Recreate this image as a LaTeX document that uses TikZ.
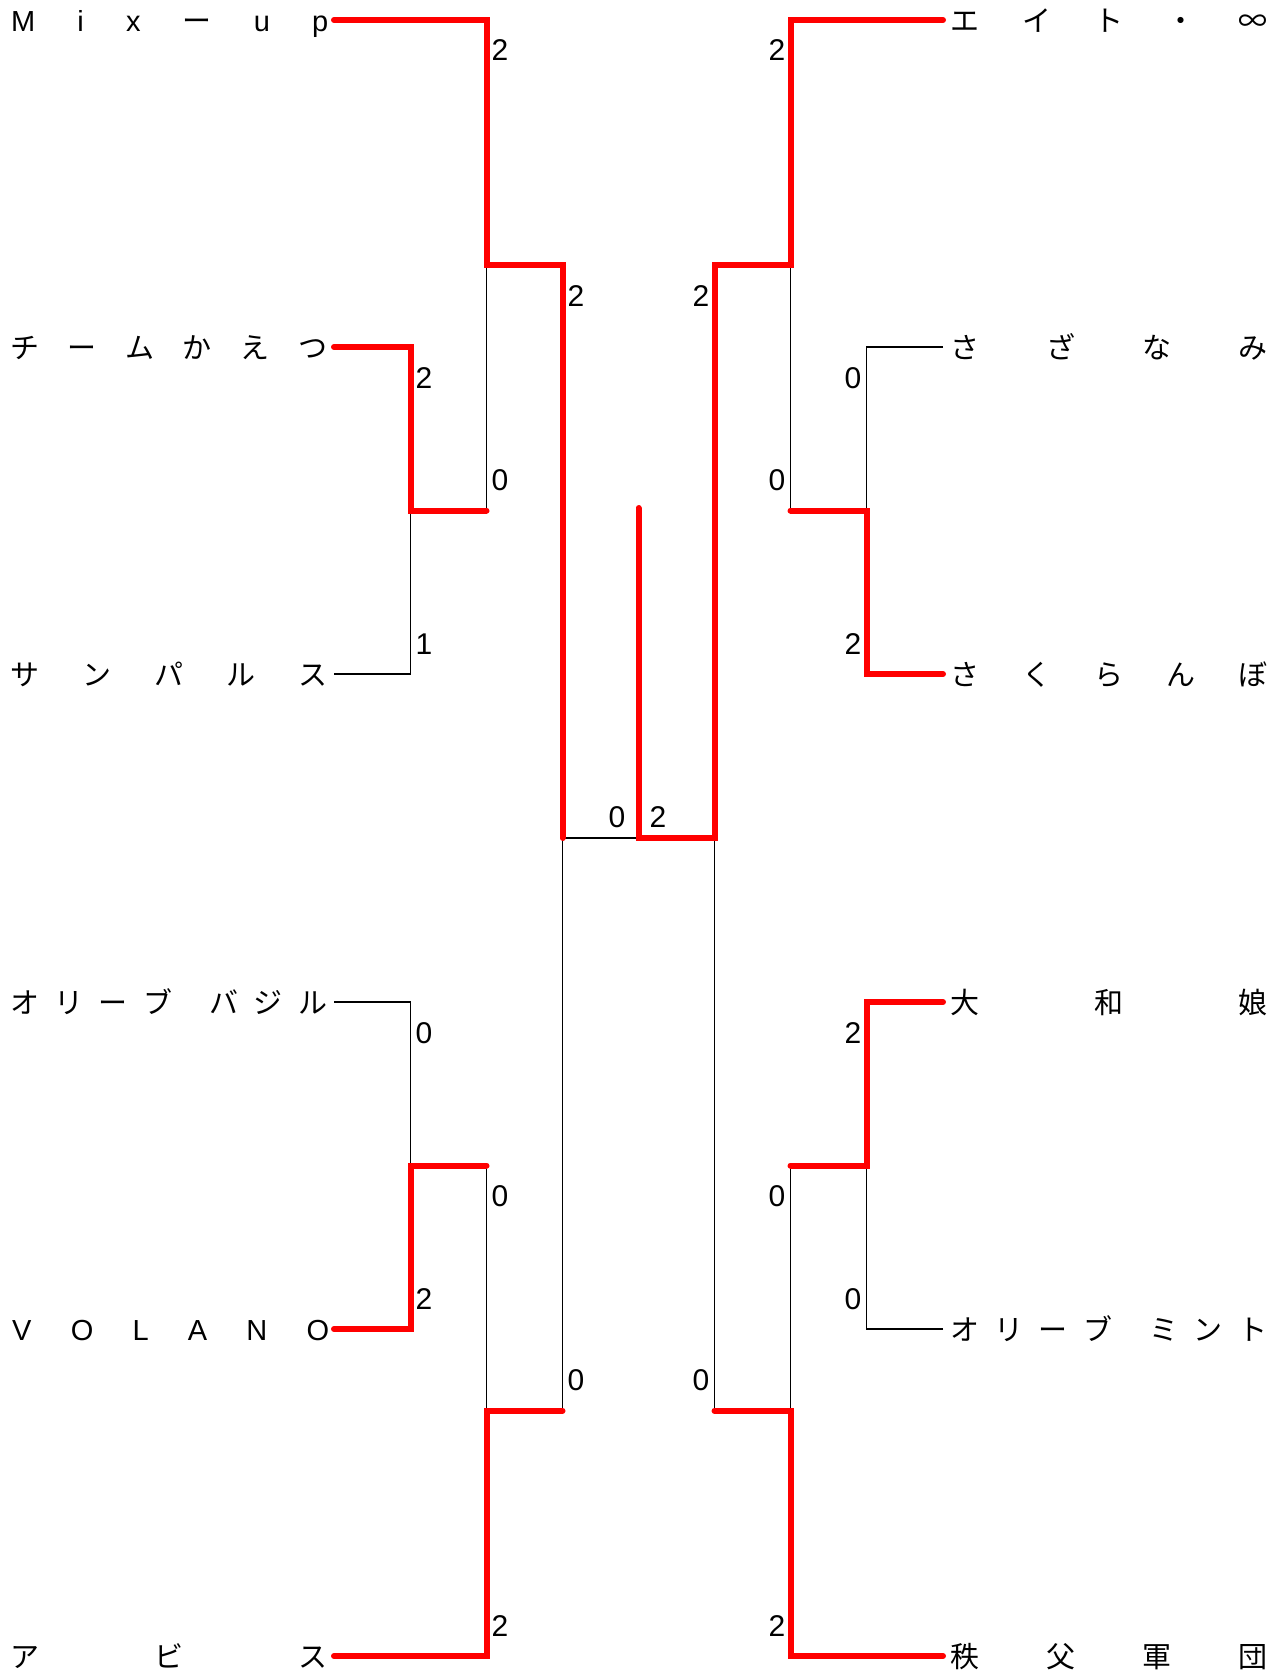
\documentclass[tikz,border=0pt]{standalone}
\usepackage{fontspec}
\setmainfont{Liberation Sans}
\newfontfamily\jpfont{Noto Sans CJK JP}
\tikzset{
  win/.style={draw=red, line width=6pt, line cap=round, line join=miter},
  lose/.style={draw=black, line width=1.1pt},
  team/.style={anchor=base west, inner sep=0pt, font=\fontsize{29}{29}\selectfont},
  scoreL/.style={anchor=base west, inner sep=0pt, font=\fontsize{30}{30}\selectfont},
  scoreR/.style={anchor=base east, inner sep=0pt, font=\fontsize{30}{30}\selectfont},
}
\newcommand\spreadbox[1]{\hbox to 317pt{#1}}
\newcommand\jpbox[1]{\hbox to 317pt{\jpfont #1}}
\begin{document}
\begin{tikzpicture}[x=1pt,y=-1pt]
\useasboundingbox (0,0) rectangle (1277,1670);
% ---- grid coordinates ----
\def\LA{334}\def\LB{410.5}\def\LC{486.5}\def\LD{562.5}\def\CC{638.5}
\def\RD{714.5}\def\RC{790.5}\def\RB{866.5}\def\RA{943}
\def\yA{20}\def\yB{347}\def\yC{674}\def\yD{1002}\def\yE{1329}\def\yF{1656}
\def\mAB{265.25}\def\mBC{510.5}\def\mDE{1165.5}\def\mEF{1410.75}\def\mF{838}

% ---- team names ----
\node[team] (nA) at (11,\yA+11.5) {\spreadbox{M\hfill i\hfill x\hfill {\jpfont ー}\hfill u\hfill p}};
\node[team] (nB) at (10,\yB+11.5) {\jpbox{チ\hfill ー\hfill ム\hfill か\hfill え\hfill つ}};
\node[team] (nC) at (10,\yC+11.5) {\jpbox{サ\hfill ン\hfill パ\hfill ル\hfill ス}};
\node[team] (nD) at (10,\yD+11.5) {\jpbox{オ\hfill リ\hfill ー\hfill ブ\hfill\hspace{7pt}\hfill バ\hfill ジ\hfill ル}};
\node[team] (nE) at (12,\yE+11.5) {\spreadbox{V\hfill O\hfill L\hfill A\hfill N\hfill O}};
\node[team] (nF) at (10,\yF+11.5) {\jpbox{ア\hfill ビ\hfill ス}};
\node[team] (mA) at (950,\yA+11.5) {\jpbox{エ\hfill イ\hfill ト\hfill ・\hfill ∞}};
\node[team] (mB) at (950,\yB+11.5) {\jpbox{さ\hfill ざ\hfill な\hfill み}};
\node[team] (mC) at (950,\yC+11.5) {\jpbox{さ\hfill く\hfill ら\hfill ん\hfill ぼ}};
\node[team] (mD) at (950,\yD+11.5) {\jpbox{大\hfill 和\hfill 娘}};
\node[team] (mE) at (950,\yE+11.5) {\jpbox{オ\hfill リ\hfill ー\hfill ブ\hfill\hspace{7pt}\hfill ミ\hfill ン\hfill ト}};
\node[team] (mF) at (950,\yF+11.5) {\jpbox{秩\hfill 父\hfill 軍\hfill 団}};

% ---- named coordinates: line ends ----
\coordinate (a1) at (\LA,\yA); \coordinate (a2) at (\LA,\yB); \coordinate (a3) at (\LA,\yC);
\coordinate (a4) at (\LA,\yD); \coordinate (a5) at (\LA,\yE); \coordinate (a6) at (\LA,\yF);
\coordinate (b1) at (\RA,\yA); \coordinate (b2) at (\RA,\yB); \coordinate (b3) at (\RA,\yC);
\coordinate (b4) at (\RA,\yD); \coordinate (b5) at (\RA,\yE); \coordinate (b6) at (\RA,\yF);
% left joins
\coordinate (lB1) at (\LB,\yB); \coordinate (lB2) at (\LB,\yC); \coordinate (lBm) at (\LB,\mBC);
\coordinate (lB4) at (\LB,\yD); \coordinate (lB5) at (\LB,\yE); \coordinate (lBn) at (\LB,\mDE);
\coordinate (lC0) at (\LC,\yA); \coordinate (lCa) at (\LC,\mAB); \coordinate (lCm) at (\LC,\mBC);
\coordinate (lCn) at (\LC,\mDE); \coordinate (lCf) at (\LC,\mEF); \coordinate (lC6) at (\LC,\yF);
\coordinate (lDa) at (\LD,\mAB); \coordinate (lDc) at (\LD,\mF); \coordinate (lDf) at (\LD,\mEF);
% right joins
\coordinate (rB1) at (\RB,\yB); \coordinate (rB2) at (\RB,\yC); \coordinate (rBm) at (\RB,\mBC);
\coordinate (rB4) at (\RB,\yD); \coordinate (rB5) at (\RB,\yE); \coordinate (rBn) at (\RB,\mDE);
\coordinate (rC0) at (\RC,\yA); \coordinate (rCa) at (\RC,\mAB); \coordinate (rCm) at (\RC,\mBC);
\coordinate (rCn) at (\RC,\mDE); \coordinate (rCf) at (\RC,\mEF); \coordinate (rC6) at (\RC,\yF);
\coordinate (rDa) at (\RD,\mAB); \coordinate (rDc) at (\RD,\mF); \coordinate (rDf) at (\RD,\mEF);
% centre
\coordinate (cc) at (\CC,\mF); \coordinate (ctop) at (\CC,508);

% ---- losing (thin) lines ----
\draw[lose] (a3) -- (lB2) -- (lBm);
\draw[lose] (lCa) -- (lCm);
\draw[lose] (a4) -- (lB4) -- (lBn);
\draw[lose] (lCn) -- (lCf);
\draw[lose] (lDf) -- (lDc) -- (cc);
\draw[lose] (b2) -- (rB1) -- (rBm);
\draw[lose] (rCa) -- (rCm);
\draw[lose] (b5) -- (rB5) -- (rBn);
\draw[lose] (rCn) -- (rCf);
\draw[lose] (rDf) -- (rDc);

% ---- winning (red) lines ----
\draw[win] (a1) -- (lC0) -- (lCa) -- (lDa) -- (lDc);
\draw[win] (a2) -- (lB1) -- (lBm) -- (lCm);
\draw[win] (a5) -- (lB5) -- (lBn) -- (lCn);
\draw[win] (a6) -- (lC6) -- (lCf) -- (lDf);
\draw[win] (b1) -- (rC0) -- (rCa) -- (rDa) -- (rDc) -- (cc) -- (ctop);
\draw[win] (b3) -- (rB2) -- (rBm) -- (rCm);
\draw[win] (b4) -- (rB4) -- (rBn) -- (rCn);
\draw[win] (b6) -- (rC6) -- (rCf) -- (rDf);

% ---- scores, left ----
\node[scoreL] (s1) at (\LC+5,\yA+41) {2};
\node[scoreL] (s2) at (\LD+5,\mAB+41) {2};
\node[scoreL] (s3) at (\LB+5,\yB+41) {2};
\node[scoreL] (s4) at (\LB+5,\yC-20) {1};
\node[scoreL] (s5) at (\LC+5,\mBC-20) {0};
\node[scoreL] (s6) at (\LB+5,\yD+41) {0};
\node[scoreL] (s7) at (\LB+5,\yE-20) {2};
\node[scoreL] (s8) at (\LC+5,\mDE+41) {0};
\node[scoreL] (s9) at (\LC+5,\yF-20) {2};
\node[scoreL] (s10) at (\LD+5,\mEF-20) {0};
% ---- final ----
\node[scoreR] (f1) at (\CC-13,\mF-11) {0};
\node[scoreL] (f2) at (\CC+11,\mF-11) {2};
% ---- scores, right ----
\node[scoreR] (t1) at (\RC-5,\yA+41) {2};
\node[scoreR] (t2) at (\RD-5,\mAB+41) {2};
\node[scoreR] (t3) at (\RB-5,\yB+41) {0};
\node[scoreR] (t4) at (\RB-5,\yC-20) {2};
\node[scoreR] (t5) at (\RC-5,\mBC-20) {0};
\node[scoreR] (t6) at (\RB-5,\yD+41) {2};
\node[scoreR] (t7) at (\RB-5,\yE-20) {0};
\node[scoreR] (t8) at (\RC-5,\mDE+41) {0};
\node[scoreR] (t9) at (\RC-5,\yF-20) {2};
\node[scoreR] (t10) at (\RD-5,\mEF-20) {0};
\end{tikzpicture}
\end{document}
